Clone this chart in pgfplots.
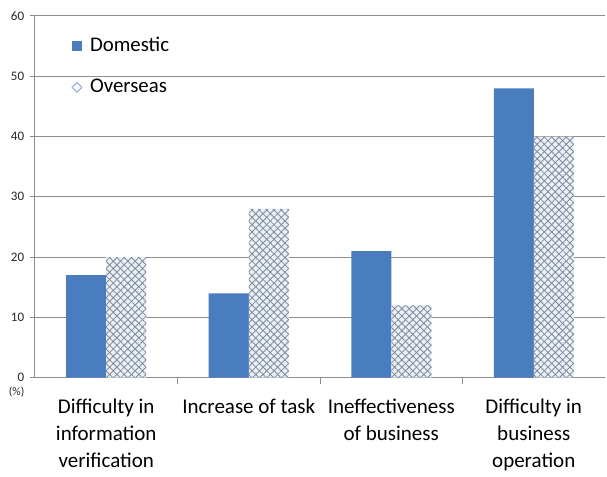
\documentclass[border=0pt]{standalone}
\usepackage{fontspec}
\setmainfont{Carlito}
\usepackage{pgfplots}
\pgfplotsset{compat=1.18}
\usetikzlibrary{patterns.meta}
\definecolor{dom}{HTML}{4A7DC0}
\definecolor{hatchbg}{HTML}{E8F0FA}
\definecolor{hatch}{HTML}{848A94}
\definecolor{gridc}{HTML}{8C8C8C}
\definecolor{legdia}{HTML}{7FA6D4}
\begin{document}
\begin{tikzpicture}
\begin{axis}[
  scale only axis, width=342pt, height=217pt,
  xmin=-0.5, xmax=3.5, ymin=0, ymax=60,
  ytick={0,10,...,60},
  ymajorgrids, grid style={gridc, line width=0.6pt},
  axis x line*=bottom, axis y line*=left,
  axis line style={gridc, line width=0.6pt},
  ybar, bar width=24pt,
  xtick={0,1,2,3},
  xticklabels={Difficulty in\\information\\verification, Increase of task, Ineffectiveness\\of business, Difficulty in\\business\\operation},
  xticklabel style={align=center, font=\fontsize{12.6}{16.4}\selectfont, text=black, yshift=-6pt},
  major x tick style={draw=none},
  extra x ticks={0.5,1.5,2.5}, extra x tick labels={},
  extra x tick style={major tick length=4pt, tick align=outside, major x tick style={draw=gridc, line width=0.6pt}, grid=none},
  ytick align=outside, major tick length=3pt,
  y tick style={gridc, line width=0.6pt},
  yticklabel style={font=\fontsize{7.8}{8}\selectfont, text=black!85},
  /pgf/number format/assume math mode=true,
  legend style={at={(0.055,0.96)}, anchor=north west, draw=none, fill=none, font=\fontsize{12.5}{15}\selectfont, row sep=11pt},
  legend cell align=left,
  clip=false,
]
\addplot[bar shift=-12pt, fill=dom, draw=none, legend image code/.code={\fill[dom] (0pt,-3.2pt) rectangle (6.4pt,3.2pt); \path (0pt,0pt) -- (9pt,0pt);}]
  coordinates {(0,17) (1,14) (2,21) (3,48)};
\addplot[bar shift=12pt, fill=hatchbg, draw=none,
  legend image code/.code={\draw[legdia, fill=white, line width=0.5pt] (3.2pt,-2.9pt) -- (6.1pt,0pt) -- (3.2pt,2.9pt) -- (0.3pt,0pt) -- cycle; \path (0pt,0pt) -- (9pt,0pt);}]
  coordinates {(0,20) (1,28) (2,12) (3,40)};
\addplot[bar shift=12pt, draw=none, forget plot,
  pattern={Lines[angle=45,distance=3.1pt,line width=0.5pt]}, pattern color=hatch,
  postaction={pattern={Lines[angle=-45,distance=3.1pt,line width=0.5pt]}, pattern color=hatch}]
  coordinates {(0,20) (1,28) (2,12) (3,40)};
\legend{Domestic, Overseas}
\node[font=\fontsize{7}{8}\selectfont, text=black!85] at (axis description cs:0,0) [xshift=-11pt, yshift=-8.4pt] {(\%)};
\end{axis}
\path (current axis.south west) ++(-21pt,-58.2pt) coordinate (bbA);
\path (current axis.north east) ++(1.2pt,9.6pt) coordinate (bbB);
\path (bbA) rectangle (bbB);
\end{tikzpicture}
\end{document}
